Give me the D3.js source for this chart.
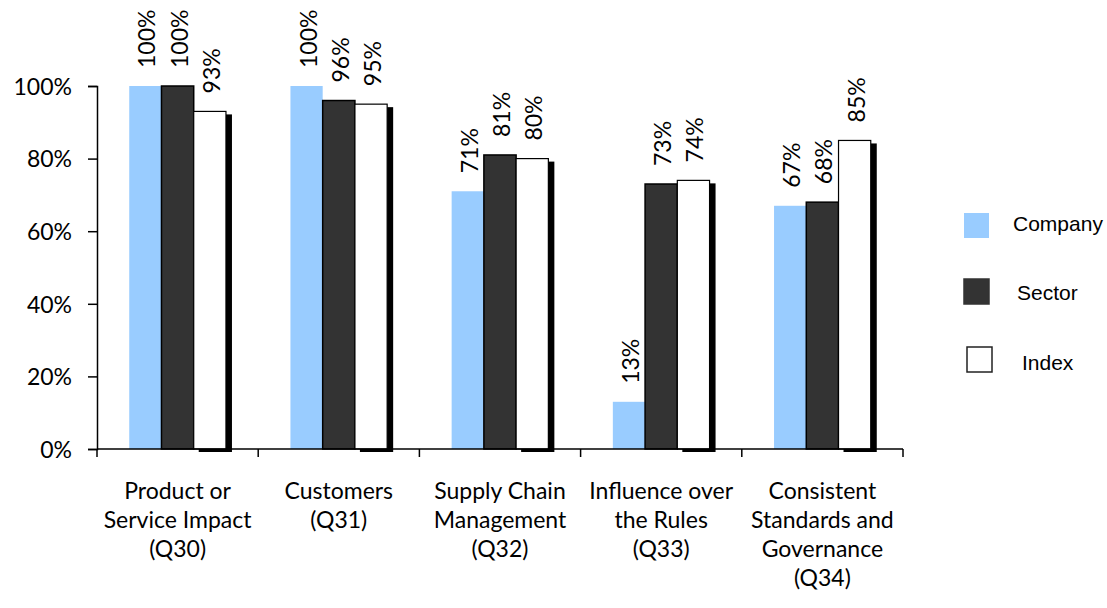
<!DOCTYPE html>
<html>
<head>
<meta charset="utf-8">
<script src="https://cdn.jsdelivr.net/npm/d3@7"></script>
<style>
  body { margin: 0; background: #fff; }
  .axis text { font-family: Lato, sans-serif; font-size: 23px; fill: #000; }
  .axis path, .axis line { stroke: #000; stroke-width: 1.5px; }
</style>
</head>
<body>
<div id="main"></div>
<script>
// data
const categories = [
  ['Product or', 'Service Impact', '(Q30)'],
  ['Customers', '(Q31)'],
  ['Supply Chain', 'Management', '(Q32)'],
  ['Influence over', 'the Rules', '(Q33)'],
  ['Consistent', 'Standards and', 'Governance', '(Q34)']
];
const seriesNames = ['Company', 'Sector', 'Index'];
const company = [100, 100, 71, 13, 67];
const sector = [100, 96, 81, 73, 68];
const index = [93, 95, 80, 74, 85];
const yTicks = [0, 20, 40, 60, 80, 100];

(function () {
  'use strict';

  const width = 1107, height = 608;
  const plot = { left: 97, right: 903, top: 86, bottom: 449 };
  const colors = { Company: '#99ccff', Sector: '#333333', Index: '#ffffff' };
  const values = { Company: company, Sector: sector, Index: index };

  const svg = d3.select('#main').append('svg')
    .attr('width', width)
    .attr('height', height);

  const keys = categories.map((c, i) => i);

  const x0 = d3.scaleBand().domain(keys).range([plot.left, plot.right]);
  const x1 = d3.scaleBand().domain(seriesNames).range([0, x0.bandwidth()]).paddingOuter(1);
  const y = d3.scaleLinear().domain([0, 100]).range([plot.bottom, plot.top]);

  // bars
  const groups = svg.append('g').selectAll('g')
    .data(keys).enter().append('g')
    .attr('transform', d => 'translate(' + x0(d) + ',0)');

  seriesNames.forEach(function (s) {
    if (s === 'Index') {
      // shadow
      groups.append('rect')
        .attr('x', d => x1(s) + 5)
        .attr('y', d => y(values[s][d]) + 3)
        .attr('width', x1.bandwidth() + 1)
        .attr('height', d => y(0) - y(values[s][d]))
        .attr('fill', '#000');
    }
    groups.append('rect')
      .attr('x', d => x1(s))
      .attr('y', d => y(values[s][d]))
      .attr('width', x1.bandwidth())
      .attr('height', d => y(0) - y(values[s][d]))
      .attr('fill', colors[s])
      .attr('stroke', s === 'Company' ? 'none' : '#000')
      .attr('stroke-width', s === 'Index' ? 1.2 : 1.5);
  });

  // axes
  svg.append('g')
    .attr('class', 'axis')
    .attr('transform', 'translate(' + plot.left + ',0)')
    .call(d3.axisLeft(y).tickValues(yTicks).tickSize(9).tickPadding(16).tickFormat(d => d + '%'))
    .call(g => g.selectAll('text').attr('dy', '0.36em'));

  const xAxis = svg.append('g')
    .attr('class', 'axis')
    .attr('transform', 'translate(0,' + plot.bottom + ')');
  xAxis.append('line')
    .attr('x1', plot.left).attr('x2', plot.right);
  xAxis.selectAll('line.tick')
    .data(d3.range(categories.length + 1)).enter().append('line')
    .attr('class', 'tick')
    .attr('x1', i => plot.left + i * x0.step())
    .attr('x2', i => plot.left + i * x0.step())
    .attr('y1', 0).attr('y2', 8);
  xAxis.selectAll('text.cat')
    .data(keys).enter().append('text')
    .attr('class', 'cat')
    .attr('text-anchor', 'middle')
    .attr('x', d => x0(d) + x0.bandwidth() / 2)
    .attr('y', 50)
    .each(function (d) {
      d3.select(this).selectAll('tspan')
        .data(categories[d]).enter().append('tspan')
        .attr('x', x0(d) + x0.bandwidth() / 2)
        .attr('dy', (t, i) => i === 0 ? 0 : 29)
        .text(t => t);
    });

  // data labels
  seriesNames.forEach(function (s) {
    groups.append('text')
      .attr('transform', d => 'translate(' + (x1(s) + x1.bandwidth() / 2 + 10) + ',' + (y(values[s][d]) - 18) + ') rotate(-90)')
      .attr('font-family', 'Lato, sans-serif')
      .attr('font-size', 23)
      .text(d => values[s][d] + '%');
  });

  // legend
  const legend = [
    { name: 'Company', x: 964, y: 213, tx: 1013, ty: 231 },
    { name: 'Sector', x: 964, y: 279, tx: 1017, ty: 300 },
    { name: 'Index', x: 967, y: 347, tx: 1022, ty: 370 }
  ];
  const lg = svg.append('g').selectAll('g').data(legend).enter().append('g');
  lg.append('rect')
    .attr('x', d => d.x).attr('y', d => d.y)
    .attr('width', 25).attr('height', 25)
    .attr('fill', d => colors[d.name])
    .attr('stroke', d => d.name === 'Company' ? 'none' : (d.name === 'Index' ? '#222' : '#333'))
    .attr('stroke-width', 1.5);
  lg.append('text')
    .attr('x', d => d.tx).attr('y', d => d.ty)
    .attr('font-family', '"Liberation Sans", Arial, sans-serif')
    .attr('font-size', 21)
    .text(d => d.name);
}());
</script>
</body>
</html>
